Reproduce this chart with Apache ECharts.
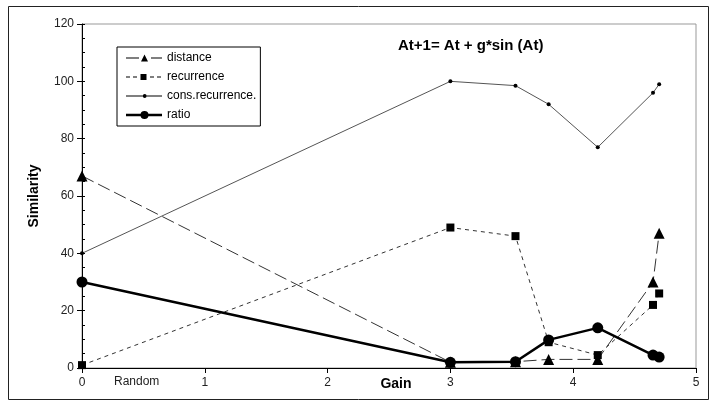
<!DOCTYPE html>
<html>
<head>
<meta charset="utf-8">
<script src="https://cdn.jsdelivr.net/npm/echarts@6/dist/echarts.min.js"></script>
<style>html,body{margin:0;padding:0;background:#fff}#c{width:714px;height:404px}</style>
</head>
<body>
<div id="c"></div>
<script>
const gains = [0, 3, 3.53, 3.8, 4.2, 4.65, 4.7];
const distance = [67, 2, 2.2, 3, 3, 30, 47];
const recurrence = [1, 49, 46, 9, 4.5, 22, 26];
const consRecurrence = [40, 100, 98.5, 92, 77, 96, 99];
const ratio = [30, 2, 2.2, 9.8, 14, 4.5, 3.8];
const xTicks = [0, 1, 2, 3, 4, 5];
const yTicks = [0, 20, 40, 60, 80, 100, 120];
const seriesNames = ['distance', 'recurrence', 'cons.recurrence.', 'ratio'];

const pair = arr => gains.map((g, i) => [g, arr[i]]);
const FONT = '"Liberation Sans", Arial, sans-serif';

// legend icons (36 x 10 box): line pieces + marker, as filled paths
const BOX = 'M0 0 M36 10 ';
const legendIcons = [
  'path://' + BOX + 'M0 4.5 H13 V5.5 H0 Z M15 8.5 L18.5 1.5 L22 8.5 Z M25 4.5 H36 V5.5 H25 Z',
  'path://' + BOX + 'M0 4.5 H4 V5.5 H0 Z M7 4.5 H11 V5.5 H7 Z M14.5 2 H20.5 V8 H14.5 Z M24 4.5 H28 V5.5 H24 Z M31 4.5 H35 V5.5 H31 Z',
  'path://' + BOX + 'M0 4.6 H36 V5.4 H0 Z M16.8 5 A1.9 1.9 0 1 1 20.6 5 A1.9 1.9 0 1 1 16.8 5 Z',
  'path://' + BOX + 'M0 3.8 H36 V6.2 H0 Z M14.5 5 A4 4 0 1 1 22.5 5 A4 4 0 1 1 14.5 5 Z'
];

const chart = echarts.init(document.getElementById('c'), null, {renderer: 'canvas'});
chart.setOption({
  animation: false,
  backgroundColor: '#fff',
  textStyle: {fontFamily: FONT},
  title: {
    text: 'At+1= At + g*sin (At)',
    left: 393, top: 33,
    textStyle: {fontFamily: FONT, fontSize: 15, fontWeight: 'bold', color: '#000'}
  },
  grid: {left: 82, right: 18, top: 24, bottom: 36, outerBoundsMode: 'none', containLabel: false,
         show: true, borderColor: '#999', borderWidth: 1, backgroundColor: 'transparent'},
  legend: {
    orient: 'vertical', left: 117, top: 47,
    itemWidth: 36, itemHeight: 10, itemGap: 7,
    padding: [5, 4, 5, 9],
    borderColor: '#000', borderWidth: 1,
    symbolKeepAspect: false,
    textStyle: {fontFamily: FONT, fontSize: 12, color: '#000'},
    data: seriesNames.map((n, i) => ({name: n, icon: legendIcons[i], itemStyle: {color: '#000', borderWidth: 0}}))
  },
  xAxis: {
    type: 'value', min: xTicks[0], max: xTicks[xTicks.length - 1], interval: 1,
    name: 'Gain', nameLocation: 'middle', nameGap: 9, nameMoveOverlap: false,
    nameTextStyle: {fontFamily: FONT, fontSize: 14, fontWeight: 'bold', color: '#000', padding: [0, 0, 0, 14], verticalAlign: 'top'},
    axisLine: {lineStyle: {color: '#000', width: 1}},
    axisTick: {show: true, length: 5, lineStyle: {color: '#000'}},
    axisLabel: {color: '#222', fontSize: 12, margin: 9, fontFamily: FONT},
    splitLine: {show: false}
  },
  yAxis: [{
    type: 'value', min: yTicks[0], max: yTicks[yTicks.length - 1], interval: 20,
    name: 'Similarity', nameLocation: 'middle', nameGap: 41, nameRotate: 90, nameMoveOverlap: false,
    nameTextStyle: {fontFamily: FONT, fontSize: 14, fontWeight: 'bold', color: '#000'},
    axisLine: {show: true, lineStyle: {color: '#000', width: 1}},
    axisTick: {show: true, length: 5, lineStyle: {color: '#000'}},
    axisLabel: {color: '#222', fontSize: 12, margin: 8, fontFamily: FONT},
    splitLine: {show: false}
  }, {
    type: 'value', position: 'left', min: yTicks[0], max: yTicks[yTicks.length - 1], interval: 5,
    axisLine: {show: false},
    axisTick: {show: true, inside: true, length: 3, lineStyle: {color: '#000'}},
    axisLabel: {show: false},
    splitLine: {show: false}
  }],
  graphic: [
    {type: 'rect', left: 6, top: 4, shape: {width: 700, height: 393}, style: {fill: 'none', stroke: '#222', lineWidth: 1}, silent: true, z: 100},
    {type: 'text', left: 114, top: 376, style: {text: 'Random', font: '12px ' + FONT, fill: '#222'}}
  ],
  series: [
    {
      name: seriesNames[0], type: 'line', data: pair(distance),
      symbol: 'triangle', symbolSize: 11,
      itemStyle: {color: '#000'},
      lineStyle: {color: '#333', width: 1, type: [13, 5]}
    },
    {
      name: seriesNames[1], type: 'line', data: pair(recurrence),
      symbol: 'rect', symbolSize: 8,
      itemStyle: {color: '#000'},
      lineStyle: {color: '#333', width: 1, type: [4, 4]}
    },
    {
      name: seriesNames[2], type: 'line', data: pair(consRecurrence),
      symbol: 'circle', symbolSize: 4,
      itemStyle: {color: '#000'},
      lineStyle: {color: '#555', width: 1}
    },
    {
      name: seriesNames[3], type: 'line', data: pair(ratio),
      symbol: 'circle', symbolSize: 11,
      itemStyle: {color: '#000'},
      lineStyle: {color: '#000', width: 2.5}
    }
  ]
});
</script>
</body>
</html>
